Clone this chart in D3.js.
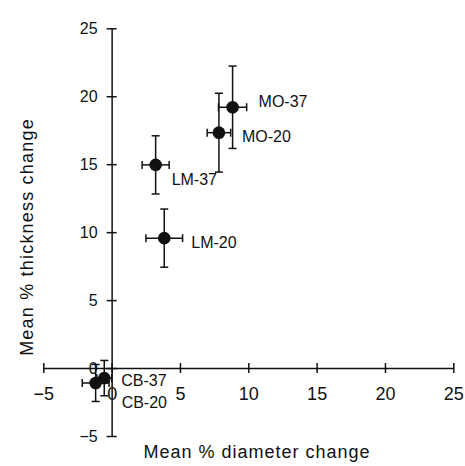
<!DOCTYPE html>
<html>
<head>
<meta charset="utf-8">
<script src="https://cdn.jsdelivr.net/npm/d3@7"></script>
<style>
  html, body { margin: 0; padding: 0; background: #fff; }
  svg { display: block; }
  text { font-family: "Liberation Sans", Arial, Helvetica, sans-serif; fill: #111; }
</style>
</head>
<body>
<svg id="chart" width="465" height="466"></svg>
<script>
// ---- data ----
const groups    = ["MO-37", "MO-20", "LM-37", "LM-20", "CB-37", "CB-20"];
const diamMean  = [8.85, 7.85, 3.22, 3.85, -0.54, -1.17];
const thickMean = [19.19, 17.32, 14.95, 9.56, -0.74, -1.10];
const diamErr   = [1.03, 0.86, 0.99, 1.34, 0.55, 0.98];
const thickErr  = [3.03, 2.90, 2.14, 2.14, 1.30, 1.36];
const xTicks = [-5, 0, 5, 10, 15, 20, 25];
const yTicks = [-5, 0, 5, 10, 15, 20, 25];

// label placement (pixel offsets from the point)
const labelOffsets = [[26, 0], [23, 9], [16, 20], [27, 10], [17, 8], [26, 25]];

const svg = d3.select("#chart");
const x = d3.scaleLinear().domain([-5, 25]).range([43.3, 453.3]);
const y = d3.scaleLinear().domain([-5, 25]).range([436, 28.3]);

const ink = "#111";

// x axis at y = 0
const gx = svg.append("g").attr("transform", `translate(0,${y(0)})`)
  .call(d3.axisBottom(x).tickValues(xTicks).tickSize(5).tickSizeOuter(0).tickPadding(14));
gx.select(".domain").attr("stroke", ink).attr("stroke-width", 1.5);
gx.selectAll(".tick line").attr("y1", -5).attr("y2", 5).attr("stroke", ink).attr("stroke-width", 1.5);
gx.selectAll(".tick text").attr("font-size", 18).attr("fill", ink)
  .attr("font-family", "Liberation Sans, Arial, sans-serif");

// y axis at x = 0
const gy = svg.append("g").attr("transform", `translate(${x(0)},0)`)
  .call(d3.axisLeft(y).tickValues(yTicks).tickSize(5).tickSizeOuter(0).tickPadding(9));
gy.select(".domain").attr("stroke", ink).attr("stroke-width", 1.5);
gy.selectAll(".tick line").attr("x1", 5).attr("x2", -5).attr("stroke", ink).attr("stroke-width", 1.5);
gy.selectAll(".tick text").attr("font-size", 16).attr("fill", ink)
  .attr("font-family", "Liberation Sans, Arial, sans-serif");

// error bars
const cap = 4;
const data = groups.map((g, i) => ({ g, dx: diamMean[i], dy: thickMean[i], ex: diamErr[i], ey: thickErr[i], off: labelOffsets[i] }));
const eb = svg.append("g").attr("stroke", ink).attr("stroke-width", 1.5).attr("fill", "none");
data.forEach(d => {
  const cx = x(d.dx), cy = y(d.dy);
  const x0 = x(d.dx - d.ex), x1 = x(d.dx + d.ex);
  const y0 = y(d.dy - d.ey), y1 = y(d.dy + d.ey);
  eb.append("line").attr("x1", x0).attr("x2", x1).attr("y1", cy).attr("y2", cy);
  eb.append("line").attr("x1", x0).attr("x2", x0).attr("y1", cy - cap).attr("y2", cy + cap);
  eb.append("line").attr("x1", x1).attr("x2", x1).attr("y1", cy - cap).attr("y2", cy + cap);
  eb.append("line").attr("x1", cx).attr("x2", cx).attr("y1", y0).attr("y2", y1);
  eb.append("line").attr("x1", cx - cap).attr("x2", cx + cap).attr("y1", y0).attr("y2", y0);
  eb.append("line").attr("x1", cx - cap).attr("x2", cx + cap).attr("y1", y1).attr("y2", y1);
});

// points
svg.append("g").selectAll("circle").data(data).join("circle")
  .attr("cx", d => x(d.dx)).attr("cy", d => y(d.dy)).attr("r", 6.3).attr("fill", ink);

// labels
svg.append("g").selectAll("text").data(data).join("text")
  .attr("x", d => x(d.dx) + d.off[0]).attr("y", d => y(d.dy) + d.off[1])
  .attr("font-size", 16).text(d => d.g);

// axis titles
svg.append("text").attr("x", 257).attr("y", 458).attr("text-anchor", "middle")
  .attr("font-size", 18).attr("letter-spacing", 1).text("Mean % diameter change");
svg.append("text").attr("transform", "translate(33,237) rotate(-90)").attr("text-anchor", "middle")
  .attr("font-size", 18).attr("letter-spacing", 1.2).text("Mean % thickness change");
</script>
</body>
</html>
